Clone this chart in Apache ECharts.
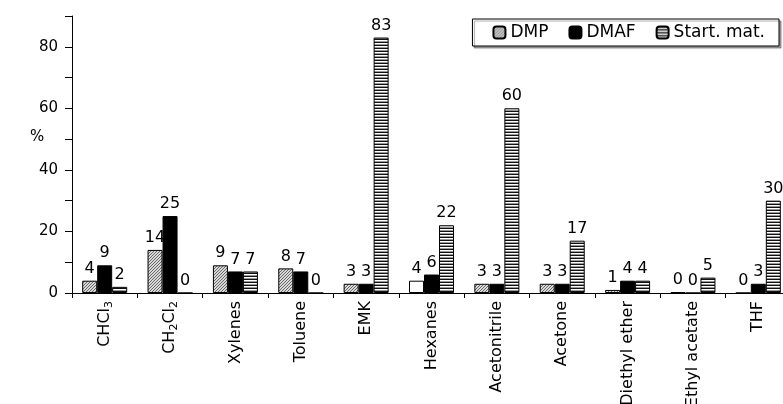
<!DOCTYPE html>
<html><head><meta charset="utf-8">
<script src="https://cdn.jsdelivr.net/npm/echarts@6/dist/echarts.min.js"></script>
<style>html,body{margin:0;padding:0;background:#fff}#c{width:783px;height:404px}</style>
</head><body><div id="c"></div>
<script>
const categories = ['CHCl3','CH2Cl2','Xylenes','Toluene','EMK','Hexanes','Acetonitrile','Acetone','Diethyl ether','Ethyl acetate','THF'];
const dmp      = [4, 14, 9, 8, 3, 4, 3, 3, 1, 0.3, 0];
const dmaf     = [9, 25, 7, 7, 3, 6, 3, 3, 4, 0, 3];
const startMat = [2, 0, 7, 0, 83, 22, 60, 17, 4, 5, 30];
const seriesNames = ['DMP', 'DMAF', 'Start. mat.'];
const yLabelTicks = [0, 20, 40, 60, 80];

function hatchPattern() {
  const c = document.createElement('canvas'); c.width = 3; c.height = 3;
  const g = c.getContext('2d');
  g.fillStyle = '#d8d8d8'; g.fillRect(0, 0, 3, 3);
  g.fillStyle = '#6a6a6a';
  for (let i = 0; i < 3; i++) g.fillRect(i, 2 - i, 1, 1);
  return c;
}
function stripePattern() {
  const c = document.createElement('canvas'); c.width = 4; c.height = 3;
  const g = c.getContext('2d');
  g.fillStyle = '#fff'; g.fillRect(0, 0, 4, 3);
  g.fillStyle = '#111'; g.fillRect(0, 0, 4, 1);
  g.fillStyle = '#999'; g.fillRect(0, 2, 4, 1);
  return c;
}
const font = '"DejaVu Sans", Arial, Helvetica, sans-serif';
function catLabel(v) {
  if (v === 'CHCl3') return '{n|CHCl}{s|3}';
  if (v === 'CH2Cl2') return '{n|CH}{s|2}{n|Cl}{s|2}';
  return '{n|' + v + '}';
}
const barLabel = {
  show: true, position: 'top', distance: 4, color: '#000', fontSize: 16, fontFamily: font,
  formatter: p => String(Math.round(p.value))
};
const border = { borderColor: '#000', borderWidth: 1 };

const chart = echarts.init(document.getElementById('c'), null, { renderer: 'canvas' });
chart.setOption({
  animation: false,
  backgroundColor: '#fff',
  textStyle: { fontFamily: font, color: '#000' },
  graphic: [{
    type: 'text', left: 30, top: 130,
    style: { text: '%', fontSize: 15, fontFamily: font, fill: '#000' }
  }],
  legend: {
    data: seriesNames,
    right: 4, top: 19,
    orient: 'horizontal',
    itemWidth: 12, itemHeight: 12, itemGap: 20,
    padding: [5, 14, 5, 20],
    borderColor: '#000', borderWidth: 1,
    shadowColor: 'rgba(0,0,0,0.35)', shadowOffsetX: 2, shadowOffsetY: 2, shadowBlur: 1,
    backgroundColor: '#fff',
    textStyle: { fontSize: 17, color: '#000', fontFamily: font }
  },
  grid: { left: 72, top: 16, width: 719, bottom: 111, containLabel: false, outerBoundsMode: 'none' },
  xAxis: {
    type: 'category',
    data: categories,
    axisLine: { lineStyle: { color: '#000', width: 1 } },
    axisTick: { show: true, inside: false, length: 5, lineStyle: { color: '#000' } },
    axisLabel: {
      rotate: 90, margin: 8, color: '#000', fontSize: 16, fontFamily: font,
      hideOverlap: false,
      formatter: catLabel,
      rich: {
        n: { fontSize: 16, fontFamily: font, color: '#000' },
        s: { fontSize: 11, fontFamily: font, color: '#000', padding: [9, 0, 0, 0] }
      }
    }
  },
  yAxis: {
    type: 'value',
    min: 0, max: 90, interval: 10,
    axisLine: { show: true, lineStyle: { color: '#000', width: 1 } },
    axisTick: { show: true, inside: false, length: 7, lineStyle: { color: '#000' } },
    splitLine: { show: false },
    axisLabel: {
      margin: 14, color: '#000', fontSize: 15, fontFamily: font,
      formatter: v => (yLabelTicks.indexOf(v) >= 0 ? String(v) : '')
    }
  },
  series: [
    {
      name: seriesNames[0], type: 'bar', barWidth: 15, barGap: '0%',
      itemStyle: Object.assign({ color: { image: hatchPattern(), repeat: 'repeat' } }, border),
      label: barLabel,
      data: dmp.map((v, i) => categories[i] === 'Hexanes'
        ? { value: v, itemStyle: { color: '#fff' } } : v)
    },
    {
      name: seriesNames[1], type: 'bar', barWidth: 15, barGap: '0%',
      itemStyle: Object.assign({ color: '#000' }, border),
      label: barLabel,
      data: dmaf
    },
    {
      name: seriesNames[2], type: 'bar', barWidth: 15, barGap: '0%',
      itemStyle: Object.assign({ color: { image: stripePattern(), repeat: 'repeat' } }, border),
      label: barLabel,
      data: startMat
    }
  ]
});
</script>
</body></html>
